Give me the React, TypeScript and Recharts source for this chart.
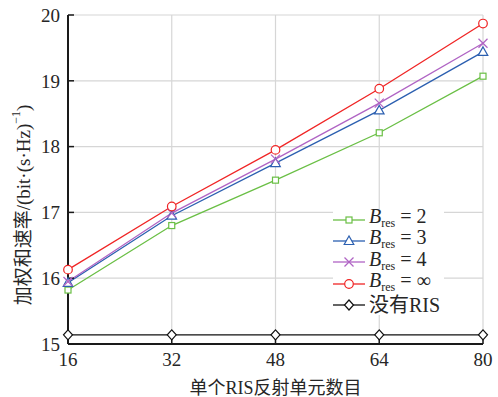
import React from 'react';
import {
  LineChart,
  Line,
  XAxis,
  YAxis,
  CartesianGrid,
  Legend,
  Label,
} from 'recharts';

// number of RIS elements
const elements = [16, 32, 48, 64, 80];
const bres2 = [15.82, 16.8, 17.49, 18.21, 19.07];
const bres3 = [15.93, 16.95, 17.75, 18.55, 19.44];
const bres4 = [15.95, 16.99, 17.81, 18.66, 19.57];
const bresInf = [16.13, 17.09, 17.95, 18.88, 19.87];
const noRis = [15.14, 15.14, 15.14, 15.14, 15.14];

const xTicks = [16, 32, 48, 64, 80];
const yTicks = [15, 16, 17, 18, 19, 20];

const data = elements.map((n, i) => ({
  n,
  b2: bres2[i],
  b3: bres3[i],
  b4: bres4[i],
  binf: bresInf[i],
  none: noRis[i],
}));

const FONT = '"Liberation Serif", "Noto Sans CJK SC", serif';
const TEXT = '#262626';

type Shape = 'square' | 'triangle' | 'cross' | 'circle' | 'diamond';

const Marker = ({ cx, cy, shape, color }: { cx: number; cy: number; shape: Shape; color: string }) => {
  const s = 1.2;
  if (shape === 'square') {
    return <rect x={cx - 3} y={cy - 3} width={6} height={6} fill="#fff" stroke={color} strokeWidth={s} />;
  }
  if (shape === 'triangle') {
    return (
      <polygon
        points={`${cx},${cy - 5} ${cx - 4.8},${cy + 3.5} ${cx + 4.8},${cy + 3.5}`}
        fill="#fff"
        stroke={color}
        strokeWidth={s}
      />
    );
  }
  if (shape === 'cross') {
    return (
      <g stroke={color} strokeWidth={s}>
        <line x1={cx - 4.5} y1={cy - 4.5} x2={cx + 4.5} y2={cy + 4.5} />
        <line x1={cx - 4.5} y1={cy + 4.5} x2={cx + 4.5} y2={cy - 4.5} />
      </g>
    );
  }
  if (shape === 'circle') {
    return <circle cx={cx} cy={cy} r={4.3} fill="#fff" stroke={color} strokeWidth={s} />;
  }
  return (
    <polygon
      points={`${cx},${cy - 5} ${cx + 4.5},${cy} ${cx},${cy + 5} ${cx - 4.5},${cy}`}
      fill="#fff"
      stroke={color}
      strokeWidth={s}
    />
  );
};

const makeDot = (shape: Shape, color: string) => (props: any) => {
  const { cx, cy, index } = props;
  if (typeof cx !== 'number' || typeof cy !== 'number') return <g key={index} />;
  return <Marker key={index} cx={cx} cy={cy} shape={shape} color={color} />;
};

const series = [
  { key: 'b2', color: '#6abf45', shape: 'square' as Shape, label: '2' },
  { key: 'b3', color: '#2b5fb0', shape: 'triangle' as Shape, label: '3' },
  { key: 'b4', color: '#b064c4', shape: 'cross' as Shape, label: '4' },
  { key: 'binf', color: '#f02525', shape: 'circle' as Shape, label: '∞' },
  { key: 'none', color: '#111111', shape: 'diamond' as Shape, label: null },
];

const CustomLegend = () => (
  <div style={{ background: '#fff', fontFamily: FONT, color: TEXT, fontSize: 20, paddingRight: 4 }}>
    {series.map((s) => (
      <div key={s.key} style={{ display: 'flex', alignItems: 'center', height: 21.3 }}>
        <svg width={34} height={14} style={{ marginRight: 2 }}>
          <line x1={0} y1={7} x2={32} y2={7} stroke={s.color} strokeWidth={1.3} />
          <Marker cx={16} cy={7} shape={s.shape} color={s.color} />
        </svg>
        {s.label !== null ? (
          <span style={{ whiteSpace: 'nowrap', lineHeight: '20px' }}>
            <i>B</i>
            <sub style={{ fontSize: 12, verticalAlign: '-4px' }}>res</sub>
            {' = ' + s.label}
          </span>
        ) : (
          <span style={{ whiteSpace: 'nowrap', lineHeight: '20px' }}>没有RIS</span>
        )}
      </div>
    ))}
  </div>
);

const YLabel = () => {
  const cx = 23;
  const cy = 205;
  return (
    <text
      x={cx}
      y={cy}
      transform={`rotate(-90, ${cx}, ${cy})`}
      textAnchor="middle"
      dominantBaseline="central"
      fontFamily={FONT}
      fontSize={19}
      fill={TEXT}
    >
      加权和速率/(bit·(s·Hz)
      <tspan dy={-7} fontSize={12}>−1</tspan>
      <tspan dy={7}>)</tspan>
    </text>
  );
};

export default function App() {
  return (
    <div style={{ position: 'absolute', left: 0, top: 0, background: '#fff' }}>
      <LineChart
        width={498}
        height={397}
        data={data}
        margin={{ top: 15, right: 15, left: 8, bottom: 13 }}
      >
        <CartesianGrid stroke="#d6d6d6" strokeWidth={1.2} />
        <XAxis
          dataKey="n"
          type="number"
          domain={[16, 80]}
          ticks={xTicks}
          height={40}
          tickSize={-6}
          tickMargin={15}
          axisLine={{ stroke: '#1a1a1a', strokeWidth: 2 }}
          tickLine={{ stroke: '#1a1a1a', strokeWidth: 1.5 }}
          tick={{ fontSize: 19, fill: TEXT, fontFamily: FONT }}
        >
          <Label
            value="单个RIS反射单元数目"
            position="insideBottom"
            offset={-10}
            style={{ fontSize: 18, fill: TEXT, fontFamily: FONT }}
          />
        </XAxis>
        <YAxis
          type="number"
          domain={[15, 20]}
          ticks={yTicks}
          width={60}
          tickSize={-6}
          tickMargin={14}
          interval={0}
          axisLine={{ stroke: '#1a1a1a', strokeWidth: 2 }}
          tickLine={{ stroke: '#1a1a1a', strokeWidth: 1.5 }}
          tick={{ fontSize: 19, fill: TEXT, fontFamily: FONT }}
        >
          <Label content={<YLabel />} />
        </YAxis>
        <XAxis
          xAxisId="top"
          orientation="top"
          height={0}
          tick={false}
          tickLine={false}
          axisLine={{ stroke: '#1a1a1a', strokeWidth: 2 }}
        />
        <YAxis
          yAxisId="right"
          orientation="right"
          width={0}
          tick={false}
          tickLine={false}
          axisLine={{ stroke: '#1a1a1a', strokeWidth: 2 }}
        />
        <Legend
          layout="vertical"
          align="center"
          verticalAlign="middle"
          content={<CustomLegend />}
          wrapperStyle={{ left: 333, top: 209, width: 'auto' }}
        />
        {series.map((s) => (
          <Line
            key={s.key}
            type="linear"
            dataKey={s.key}
            stroke={s.color}
            strokeWidth={1.3}
            dot={makeDot(s.shape, s.color)}
            activeDot={false}
            isAnimationActive={false}
          />
        ))}
      </LineChart>
    </div>
  );
}
